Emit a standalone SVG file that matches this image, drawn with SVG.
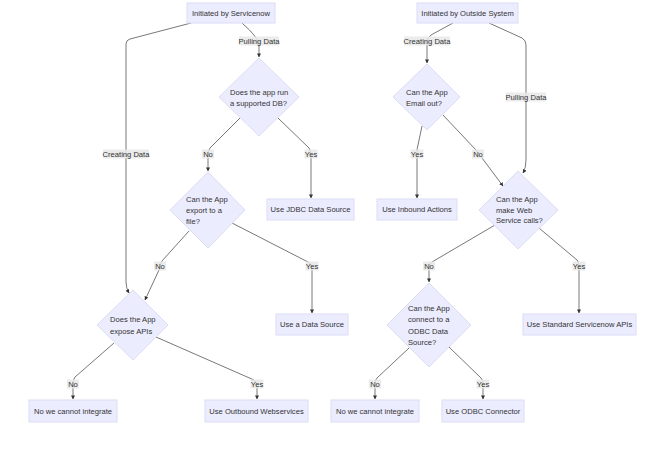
<svg xmlns="http://www.w3.org/2000/svg" width="650" height="459" viewBox="0 0 650 459">
<defs>
<marker id="arr" viewBox="0 0 10 10" refX="9" refY="5" markerWidth="4" markerHeight="4" orient="auto" markerUnits="userSpaceOnUse">
<path d="M0,0 L10,5 L0,10 z" fill="#333"/>
</marker>
<style>
.n{fill:#ECECFF;stroke:#dcdcf5;stroke-width:1}
.t{font-family:"Liberation Sans",Arial,sans-serif;font-size:7.6px;fill:#333}
.c{text-anchor:middle}
.e{fill:none;stroke:#555;stroke-width:0.8;marker-end:url(#arr)}
.lb{fill:#e8e8e8;opacity:0.85}
</style>
</defs>
<rect width="650" height="459" fill="#fff"/>
<g id="connectors">
<path class="e" d="M191,23 L130,39 Q126,40 126,44 L126,282 Q126,288 129,293"/>
<path class="e" d="M242,23 Q259,38 259,45 L259,57"/>
<path class="e" d="M240,118 L210,148 Q208,151 208,155 L208,171"/>
<path class="e" d="M278,118 L309,148 Q311,151 311,155 L311,198"/>
<path class="e" d="M189,231 L162,261 Q160,264 159,270 L145,300"/>
<path class="e" d="M232,223 L308,262 Q312,264 312,268 L312,313"/>
<path class="e" d="M114,343 L75,377 Q73,380 73,384 L73,399"/>
<path class="e" d="M156,337 L254,380 Q257,382 257,386 L257,399"/>
<path class="e" d="M453,23 L431,35 Q427,38 427,42 L427,63"/>
<path class="e" d="M489,23 L522,38 Q526,40 526,45 L526,160 Q526,168 523,173"/>
<path class="e" d="M422,126 L418,145 Q417,148 417,152 L417,198"/>
<path class="e" d="M443,115 L476,150 L503,186"/>
<path class="e" d="M495,225 L432,262 Q429,264 429,268 L429,282"/>
<path class="e" d="M539,228 L577,260 Q579,262 579,266 L579,313"/>
<path class="e" d="M409,348 L377,378 Q375,380 375,384 L375,399"/>
<path class="e" d="M449,347 L481,378 Q483,380 483,384 L483,399"/>
<g id="edge-labels">
<rect class="lb" x="103" y="149.5" width="46" height="9"/><text class="t c" x="126" y="156.7">Creating Data</text>
<rect class="lb" x="239" y="36.5" width="40" height="9"/><text class="t c" x="259" y="43.7">Pulling Data</text>
<rect class="lb" x="202" y="149.5" width="12" height="9"/><text class="t c" x="208" y="156.7">No</text>
<rect class="lb" x="304.5" y="149.5" width="13" height="9"/><text class="t c" x="311" y="156.7">Yes</text>
<rect class="lb" x="154" y="261.5" width="12" height="9"/><text class="t c" x="160" y="268.7">No</text>
<rect class="lb" x="305.5" y="261.5" width="13" height="9"/><text class="t c" x="312" y="268.7">Yes</text>
<rect class="lb" x="67" y="379.5" width="12" height="9"/><text class="t c" x="73" y="386.7">No</text>
<rect class="lb" x="250.5" y="379.5" width="13" height="9"/><text class="t c" x="257" y="386.7">Yes</text>
<rect class="lb" x="404" y="36.5" width="46" height="9"/><text class="t c" x="427" y="43.7">Creating Data</text>
<rect class="lb" x="506" y="92.5" width="40" height="9"/><text class="t c" x="526" y="99.7">Pulling Data</text>
<rect class="lb" x="410.5" y="149.5" width="13" height="9"/><text class="t c" x="417" y="156.7">Yes</text>
<rect class="lb" x="472" y="149.5" width="12" height="9"/><text class="t c" x="478" y="156.7">No</text>
<rect class="lb" x="423" y="261.5" width="12" height="9"/><text class="t c" x="429" y="268.7">No</text>
<rect class="lb" x="572.5" y="261.5" width="13" height="9"/><text class="t c" x="579" y="268.7">Yes</text>
<rect class="lb" x="369" y="379.5" width="12" height="9"/><text class="t c" x="375" y="386.7">No</text>
<rect class="lb" x="476.5" y="379.5" width="13" height="9"/><text class="t c" x="483" y="386.7">Yes</text>
</g>
</g>
<g id="n-servicenow"><rect class="n" x="187" y="3" width="88" height="20"/><text class="t c" x="231" y="15.7">Initiated by Servicenow</text></g>
<g id="n-outside"><rect class="n" x="417" y="3" width="101" height="20"/><text class="t c" x="467.5" y="15.7">Initiated by Outside System</text></g>
<g id="n-db"><polygon class="n" points="259,58 299,97 259,136 219,97"/><text class="t" x="230" y="94.7">Does the app run</text><text class="t" x="230" y="105.7">a supported DB?</text></g>
<g id="n-export"><polygon class="n" points="208,172 245,210 208,248 170,210"/><text class="t" x="186" y="201.7">Can the App</text><text class="t" x="186" y="212.7">export to a</text><text class="t" x="186" y="223.7">file?</text></g>
<g id="n-jdbc"><rect class="n" x="267" y="199" width="87" height="21"/><text class="t c" x="310.5" y="212.2">Use JDBC Data Source</text></g>
<g id="n-datasource"><rect class="n" x="276" y="314" width="72" height="21"/><text class="t c" x="312" y="327.2">Use a Data Source</text></g>
<g id="n-expose"><polygon class="n" points="133,290 168,325 133,360 97,325"/><text class="t" x="110" y="321.7">Does the App</text><text class="t" x="110" y="333.7">expose APIs</text></g>
<g id="n-nocannot1"><rect class="n" x="29" y="400" width="88" height="22"/><text class="t c" x="73" y="413.7">No we cannot integrate</text></g>
<g id="n-outbound"><rect class="n" x="205" y="400" width="103" height="22"/><text class="t c" x="256.5" y="413.7">Use Outbound Webservices</text></g>
<g id="n-email"><polygon class="n" points="427,64 460,97 427,130 393,97"/><text class="t" x="406" y="94.7">Can the App</text><text class="t" x="406" y="105.7">Email out?</text></g>
<g id="n-inbound"><rect class="n" x="377" y="199" width="80" height="21"/><text class="t c" x="417" y="212.2">Use Inbound Actions</text></g>
<g id="n-webservice"><polygon class="n" points="518,171 558,210 518,249 479,210"/><text class="t" x="496" y="201.7">Can the App</text><text class="t" x="496" y="212.7">make Web</text><text class="t" x="496" y="223.2">Service calls?</text></g>
<g id="n-standard"><rect class="n" x="523" y="314" width="113" height="21"/><text class="t c" x="579.5" y="327.2">Use Standard Servicenow APIs</text></g>
<g id="n-odbc"><polygon class="n" points="429,283 471,325 429,367 387,325"/><text class="t" x="408" y="310.7">Can the App</text><text class="t" x="408" y="321.7">connect to a</text><text class="t" x="408" y="333.7">ODBC Data</text><text class="t" x="408" y="344.7">Source?</text></g>
<g id="n-nocannot2"><rect class="n" x="331" y="400" width="88" height="22"/><text class="t c" x="375" y="413.7">No we cannot integrate</text></g>
<g id="n-odbcconn"><rect class="n" x="442" y="400" width="82" height="22"/><text class="t c" x="483" y="413.7">Use ODBC Connector</text></g>
</svg>
